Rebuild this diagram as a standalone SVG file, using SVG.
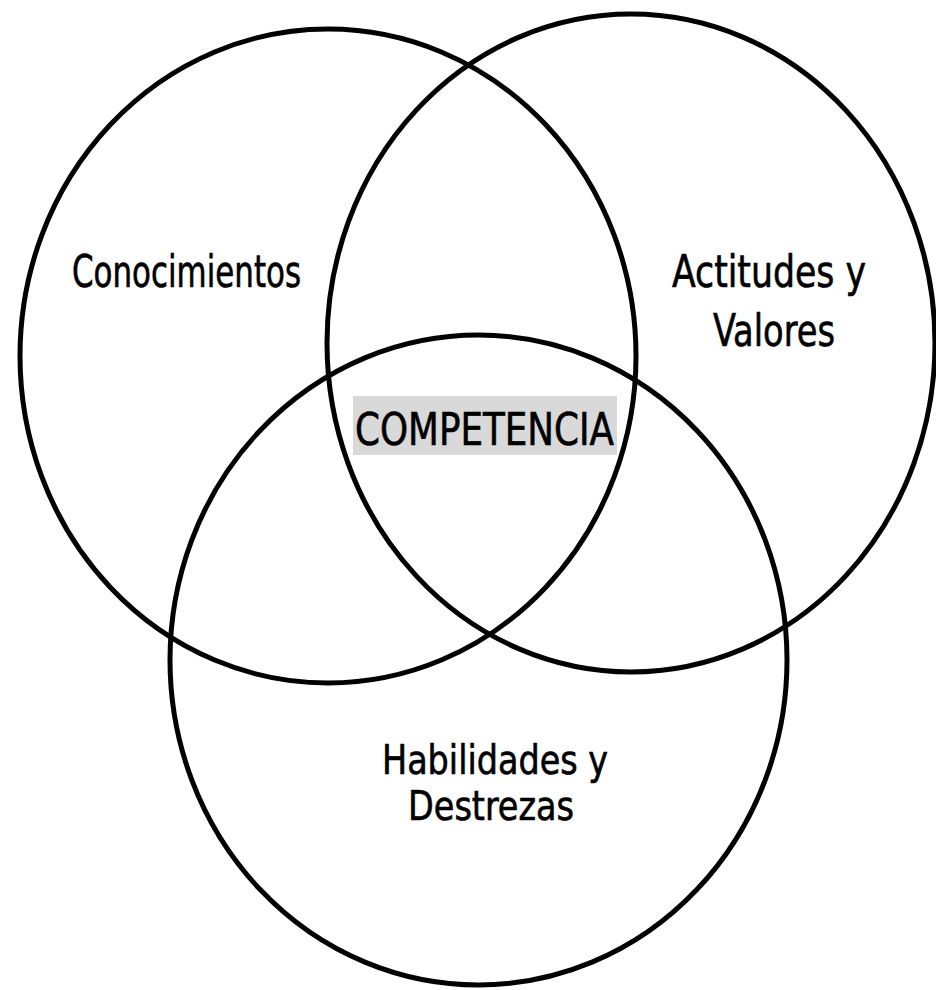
<svg xmlns="http://www.w3.org/2000/svg" width="936" height="990" viewBox="0 0 936 990">
  <style>
    .ring { fill: none; stroke: #000; stroke-width: 5; }
    .lbl { font-family: "Liberation Sans Narrow", "DejaVu Sans Condensed", "Liberation Sans", sans-serif; font-size: 44px; fill: #000; stroke: #000; stroke-width: 0.6; }
    .sm { font-size: 40px; }
  </style>
  <rect width="936" height="990" fill="#fff"/>
  <g id="conocimientos">
    <ellipse class="ring" cx="328" cy="356" rx="308" ry="327"/>
    <text class="lbl" x="72" y="287" textLength="229" lengthAdjust="spacingAndGlyphs">Conocimientos</text>
  </g>
  <g id="actitudes">
    <ellipse class="ring" cx="631" cy="343" rx="304" ry="329"/>
    <text class="lbl" x="672" y="287" textLength="194" lengthAdjust="spacingAndGlyphs">Actitudes y</text>
    <text class="lbl" x="713" y="346" textLength="122" lengthAdjust="spacingAndGlyphs">Valores</text>
  </g>
  <g id="habilidades">
    <ellipse class="ring" cx="478.5" cy="660" rx="308.5" ry="325"/>
    <text class="lbl sm" x="382" y="774" textLength="226" lengthAdjust="spacingAndGlyphs">Habilidades y</text>
    <text class="lbl sm" x="408" y="820" textLength="166" lengthAdjust="spacingAndGlyphs">Destrezas</text>
  </g>
  <g id="competencia">
    <rect x="353" y="396" width="264" height="59" fill="#d9d9d9"/>
    <text class="lbl" x="355" y="445" textLength="259" lengthAdjust="spacingAndGlyphs">COMPETENCIA</text>
  </g>
  <g id="connectors"/>
</svg>
